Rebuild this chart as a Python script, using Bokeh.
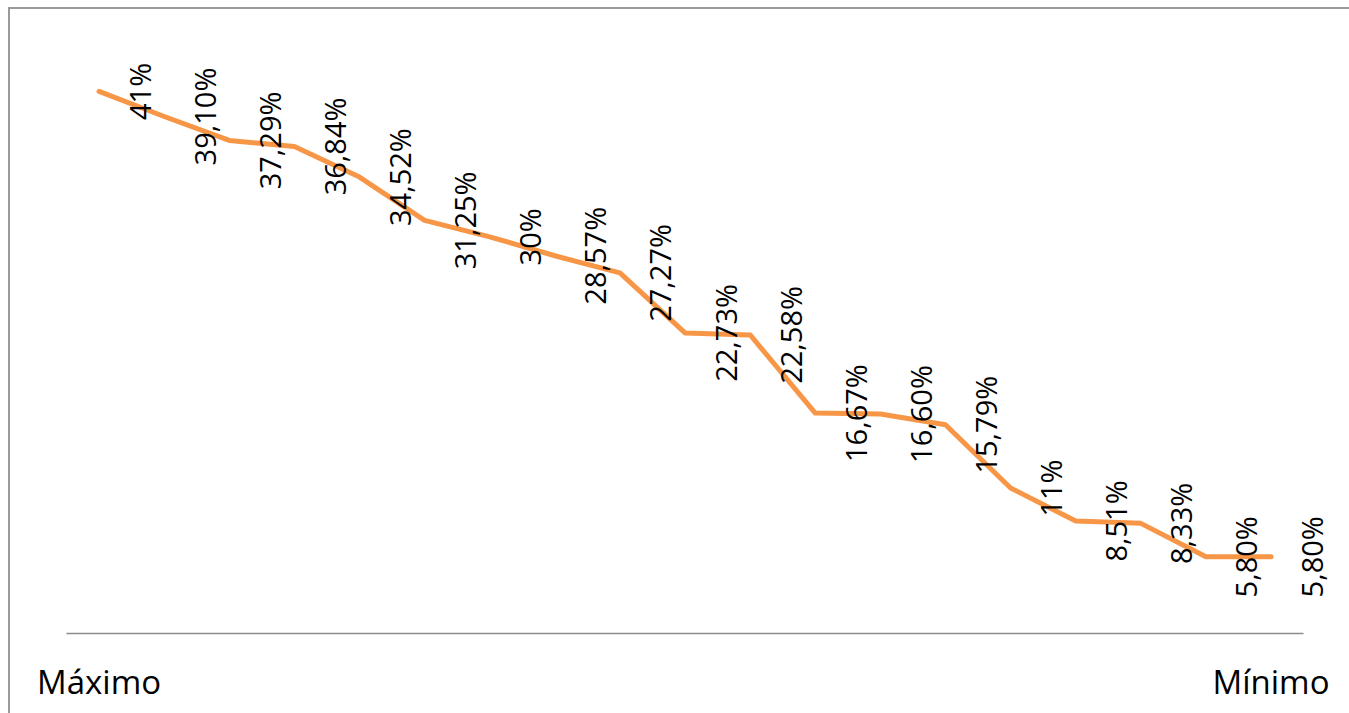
import math
from bokeh.plotting import figure
from bokeh.models import ColumnDataSource, FixedTicker, Range1d
from bokeh.core.properties import value
from bokeh.embed import file_html
from bokeh.resources import INLINE

values = [41, 39.10, 37.29, 36.84, 34.52, 31.25, 30, 28.57, 27.27, 22.73,
          22.58, 16.67, 16.60, 15.79, 11, 8.51, 8.33, 5.80, 5.80]
value_labels = ["41%", "39,10%", "37,29%", "36,84%", "34,52%", "31,25%", "30%",
                "28,57%", "27,27%", "22,73%", "22,58%", "16,67%", "16,60%",
                "15,79%", "11%", "8,51%", "8,33%", "5,80%", "5,80%"]
positions = list(range(len(values)))
axis_ticks = [0, len(values) - 1]
axis_tick_labels = ["Máximo", "Mínimo"]

src = ColumnDataSource(dict(x=positions, y=values, lab=value_labels))

n = len(values)
px_per_cat = 65.11
frame_left = 56
frame_right_pad = 4
W, H = 1339, 704
x_end = -0.5 + (W - frame_right_pad - frame_left) / px_per_cat

p = figure(width=W, height=H, output_backend="svg", toolbar_location=None,
           x_range=Range1d(-0.5, x_end), y_range=Range1d(0, 45),
           min_border_left=frame_left, min_border_right=frame_right_pad,
           min_border_top=29, min_border_bottom=80)
p.margin = (9, 0, 0, 10)
p.styles = {"outline": "2px solid #9a9a9a"}
p.outline_line_color = None
p.grid.visible = False
p.yaxis.visible = False
p.background_fill_color = "white"
p.border_fill_color = "white"

p.line("x", "y", source=src, line_color="#F79646", line_width=5,
       line_join="round", line_cap="round")
p.text("x", "y", text="lab", source=src, angle=math.pi / 2, x_offset=40,
       text_align="center", text_baseline="middle",
       text_font=value("Open Sans"), text_font_size="29px", text_color="black")

ax = p.xaxis[0]
ax.ticker = FixedTicker(ticks=axis_ticks)
ax.bounds = (-0.5, n - 0.5)
ax.major_label_overrides = {t: l for t, l in zip(axis_ticks, axis_tick_labels)}
ax.major_tick_line_color = None
ax.minor_tick_line_color = None
ax.axis_line_color = "#8c8c8c"
ax.axis_line_width = 1.5
ax.major_label_text_font = "Open Sans"
ax.major_label_text_font_size = "33px"
ax.major_label_text_color = "black"
ax.major_label_standoff = 19

open("out.html", "w").write(file_html(p, INLINE))
